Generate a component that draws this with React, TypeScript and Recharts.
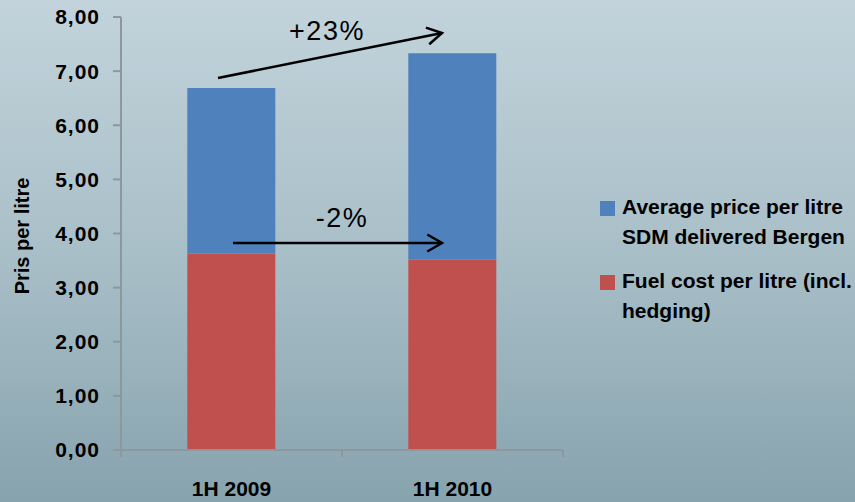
import React from 'react';
import { BarChart, Bar, XAxis, YAxis } from 'recharts';

const categories = ['1H 2009', '1H 2010'];
const fuelCost = [3.63, 3.52];
const avgPrice = [3.06, 3.81];
const yTicks = [0, 1, 2, 3, 4, 5, 6, 7, 8];

const W = 855;
const H = 502;
const margin = { top: 17, right: 292, bottom: 0, left: 0 };
const Y_AXIS_W = 121;
const X_AXIS_H = 52;
const FONT = '"Liberation Sans", Arial, sans-serif';
const AXIS_COLOR = '#8d989e';

const data = categories.map((name, i) => ({ name, fuel: fuelCost[i], avg: avgPrice[i] }));

const plotW = W - margin.left - margin.right - Y_AXIS_W;
const halfBand = plotW / categories.length / 2;

const XTick = ({ x, y, payload, index }: any) => (
  <g>
    <line x1={x - halfBand} y1={y} x2={x - halfBand} y2={y + 7} stroke={AXIS_COLOR} strokeWidth={2} />
    {index === categories.length - 1 && (
      <line x1={x + halfBand} y1={y} x2={x + halfBand} y2={y + 7} stroke={AXIS_COLOR} strokeWidth={2} />
    )}
    <text x={x} y={y + 46} textAnchor="middle" fontFamily={FONT} fontWeight="bold" fontSize={21} fill="#000">
      {payload.value}
    </text>
  </g>
);

const arrowHead = (x1: number, y1: number, x2: number, y2: number, len = 17) => {
  const a = Math.atan2(y2 - y1, x2 - x1);
  const s = Math.PI / 6;
  const p1 = [x2 - len * Math.cos(a - s), y2 - len * Math.sin(a - s)];
  const p2 = [x2 - len * Math.cos(a + s), y2 - len * Math.sin(a + s)];
  return `${p1[0]},${p1[1]} ${x2},${y2} ${p2[0]},${p2[1]}`;
};

const Arrow = ({ x1, y1, x2, y2 }: any) => (
  <g stroke="#000" strokeWidth={2.5} fill="none">
    <line x1={x1} y1={y1} x2={x2} y2={y2} />
    <polyline points={arrowHead(x1, y1, x2, y2)} />
  </g>
);

const legendItems = [
  { color: '#4f81bd', lines: ['Average price per litre', 'SDM delivered Bergen'] },
  { color: '#c0504d', lines: ['Fuel cost per litre (incl.', 'hedging)'] },
];

export default function App() {
  return (
    <div
      style={{
        position: 'absolute',
        left: 0,
        top: 0,
        width: W,
        height: H,
        background: 'linear-gradient(to bottom, #c2d3db 0%, #a9bfc8 50%, #87a3ae 100%)',
        overflow: 'hidden',
      }}
    >
      <BarChart width={W} height={H} data={data} margin={margin} barCategoryGap="30%">
        <XAxis
          dataKey="name"
          height={X_AXIS_H}
          tickLine={false}
          tickSize={0}
          tickMargin={0}
          axisLine={{ stroke: AXIS_COLOR, strokeWidth: 2 }}
          tick={<XTick />}
          interval={0}
        />
        <YAxis
          width={Y_AXIS_W}
          domain={[0, 8]}
          ticks={yTicks}
          interval={0}
          tickSize={8}
          tickMargin={13}
          axisLine={{ stroke: AXIS_COLOR, strokeWidth: 2 }}
          tickLine={{ stroke: AXIS_COLOR, strokeWidth: 2 }}
          tickFormatter={(v: number) => v.toFixed(2).replace('.', ',')}
          tick={{ fill: '#000', fontFamily: FONT, fontWeight: 'bold', fontSize: 21, letterSpacing: 1 }}
          label={{
            content: () => (
              <text
                x={22}
                y={236}
                transform="rotate(-90 22 236)"
                textAnchor="middle"
                dominantBaseline="central"
                fontFamily={FONT}
                fontWeight="bold"
                fontSize={20}
                fill="#000"
              >
                Pris per litre
              </text>
            ),
          }}
        />
        <Bar dataKey="fuel" stackId="a" fill="#c0504d" isAnimationActive={false} />
        <Bar dataKey="avg" stackId="a" fill="#4f81bd" isAnimationActive={false} />
      </BarChart>

      <svg width={W} height={H} style={{ position: 'absolute', left: 0, top: 0, pointerEvents: 'none' }}>
        <Arrow x1={218} y1={78} x2={442} y2={33} />
        <text x={327} y={40} textAnchor="middle" fontFamily={FONT} fontSize={27} letterSpacing={1.5} fill="#000">
          +23%
        </text>
        <Arrow x1={233} y1={243} x2={442} y2={243} />
        <text x={342} y={227} textAnchor="middle" fontFamily={FONT} fontSize={27} letterSpacing={1.5} fill="#000">
          -2%
        </text>
      </svg>

      <div style={{ position: 'absolute', left: 600, top: 195, fontFamily: FONT, fontWeight: 'bold', fontSize: 21 }}>
        {legendItems.map((item, i) => (
          <div key={i} style={{ display: 'flex', marginBottom: 17 }}>
            <div style={{ width: 15, height: 15, background: item.color, marginTop: 6, marginRight: 7, flexShrink: 0 }} />
            <div style={{ lineHeight: '30px', whiteSpace: 'nowrap', marginTop: -3 }}>
              {item.lines.map((l, j) => (
                <div key={j}>{l}</div>
              ))}
            </div>
          </div>
        ))}
      </div>
    </div>
  );
}
